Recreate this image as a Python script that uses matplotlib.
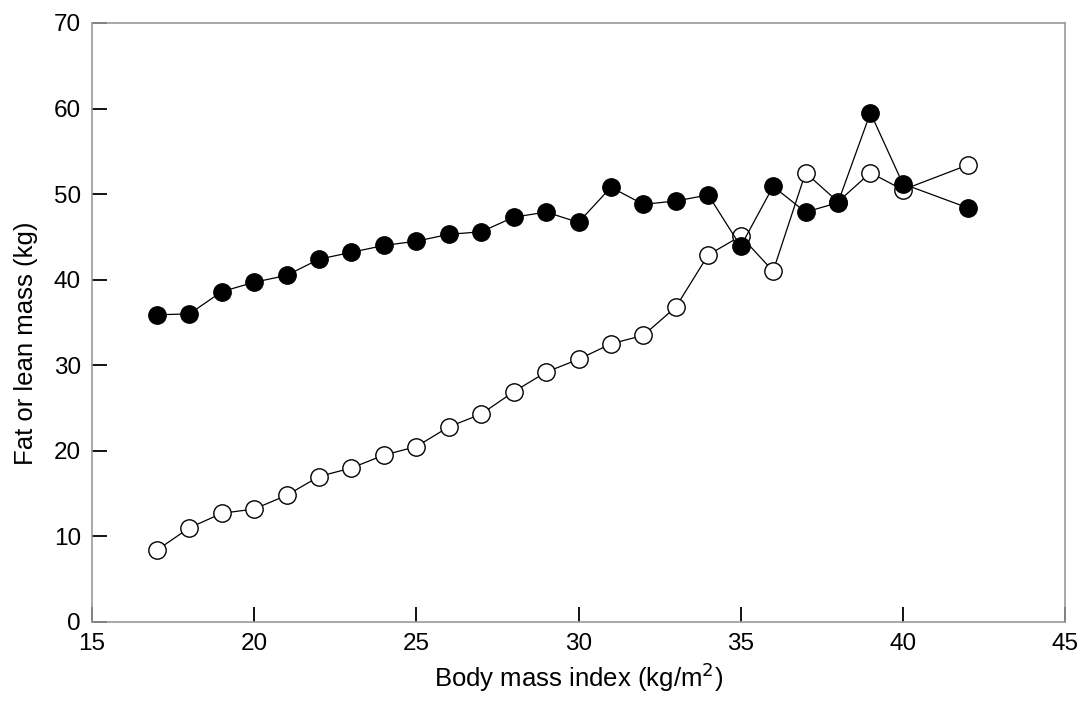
# fat and lean mass against body mass index
import matplotlib
matplotlib.use('Agg')
import matplotlib.pyplot as plt

plt.rcParams['font.family'] = ['Liberation Sans', 'DejaVu Sans']

bmi = [17, 18, 19, 20, 21, 22, 23, 24, 25, 26, 27, 28, 29, 30,
       31, 32, 33, 34, 35, 36, 37, 38, 39, 40, 42]
lean_mass = [35.9, 36.0, 38.6, 39.7, 40.5, 42.4, 43.2, 44.0, 44.5, 45.3,
             45.6, 47.3, 47.9, 46.7, 50.8, 48.8, 49.2, 49.9, 43.9, 50.9,
             47.9, 49.0, 59.5, 51.2, 48.4]
fat_mass = [8.4, 11.0, 12.7, 13.2, 14.8, 17.0, 18.0, 19.5, 20.5, 22.8,
            24.3, 26.9, 29.2, 30.7, 32.5, 33.5, 36.8, 42.9, 45.1, 41.0,
            52.5, 49.1, 52.5, 50.5, 53.4]

fig = plt.figure(figsize=(10.84, 7.11), dpi=100)
ax = fig.add_axes([0.0849, 0.1252, 0.8976, 0.8425])

ax.plot(bmi, fat_mass, color='black', lw=0.9, marker='o', ms=12.5,
        mfc='white', mec='black', mew=1.0, zorder=2)
ax.plot(bmi, lean_mass, color='black', lw=0.9, marker='o', ms=12.5,
        mfc='black', mec='black', zorder=3)

ax.set_xlim(15, 45)
ax.set_ylim(0, 70)
ax.set_xticks(range(15, 46, 5))
ax.set_yticks(range(0, 71, 10))
ax.tick_params(direction='in', length=11, width=1.3, labelsize=17.5,
               top=False, right=False, pad=8)
ax.set_xlabel('Body mass index (kg/m$^2$)', fontsize=18.5, labelpad=4)
ax.set_ylabel('Fat or lean mass (kg)', fontsize=18.5)
ax.yaxis.set_label_coords(-0.056, 0.466)
for s in ax.spines.values():
    s.set_color('#999999')
    s.set_linewidth(1.2)

plt.savefig('out.png', dpi=100)
